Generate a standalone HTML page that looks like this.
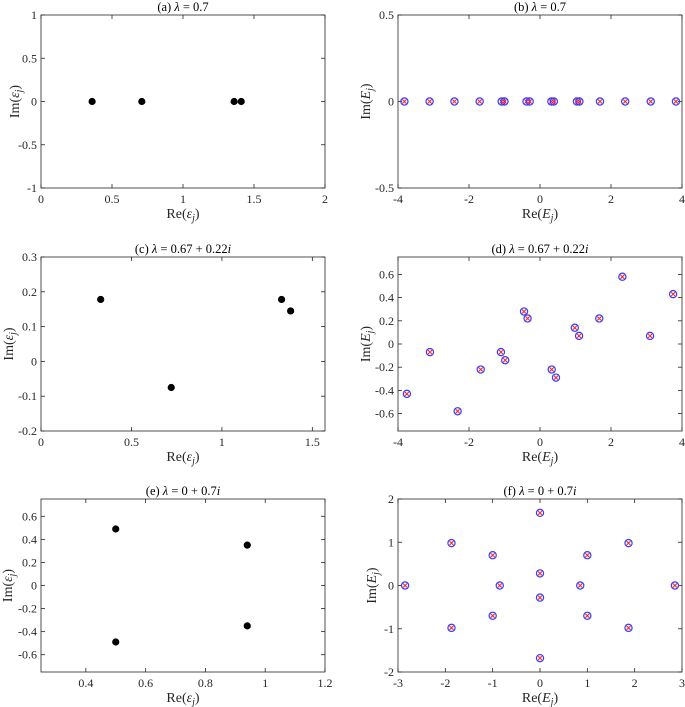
<!DOCTYPE html>
<html><head><meta charset="utf-8">
<style>
html,body{margin:0;padding:0;background:#fff;}
svg{display:block;font-family:"Liberation Serif",serif;}
</style></head>
<body>
<svg id="fig" width="685" height="707" viewBox="0 0 685 707" xmlns="http://www.w3.org/2000/svg"></svg>
<script>
// ---- data ----
const aRe=[0.36,0.71,1.36,1.41];
const aIm=[0,0,0,0];
const bRe=[-3.82,-3.11,-2.41,-1.70,-1.08,-1.00,-0.38,-0.29,0.32,0.39,1.04,1.11,1.69,2.40,3.12,3.83];
const bIm=[0,0,0,0,0,0,0,0,0,0,0,0,0,0,0,0];
const cRe=[0.33,0.72,1.33,1.38];
const cIm=[0.178,-0.075,0.178,0.145];
const dRe=[-3.75,-3.1,-2.32,-1.67,-1.1,-0.98,-0.45,-0.35,0.33,0.45,0.98,1.1,1.67,2.32,3.1,3.75];
const dIm=[-0.43,-0.07,-0.58,-0.22,-0.07,-0.14,0.28,0.22,-0.22,-0.29,0.14,0.07,0.22,0.58,0.07,0.43];
const eRe=[0.5,0.5,0.94,0.94];
const eIm=[0.49,-0.49,0.35,-0.35];
const fRe=[-2.85,-1.87,-1.87,-1,-1,-0.85,0,0,0,0,0.85,1,1,1.87,1.87,2.85];
const fIm=[0,0.98,-0.98,0.7,-0.7,0,1.68,0.28,-0.28,-1.68,0,0.7,-0.7,0.98,-0.98,0];
const aXt=[0,0.5,1,1.5,2], aYt=[-1,-0.5,0,0.5,1];
const bXt=[-4,-2,0,2,4], bYt=[-0.5,0,0.5];
const cXt=[0,0.5,1,1.5], cYt=[-0.2,-0.1,0,0.1,0.2,0.3];
const dXt=[-4,-2,0,2,4], dYt=[-0.6,-0.4,-0.2,0,0.2,0.4,0.6];
const eXt=[0.4,0.6,0.8,1,1.2], eYt=[-0.6,-0.4,-0.2,0,0.2,0.4,0.6];
const fXt=[-3,-2,-1,0,1,2,3], fYt=[-2,-1,0,1,2];

const NS="http://www.w3.org/2000/svg";
const svg=document.getElementById('fig');
function mk(tag,attrs,parent){const e=document.createElementNS(NS,tag);for(const k in attrs)e.setAttribute(k,attrs[k]);(parent||svg).appendChild(e);return e;}
function fmt(v){let s=String(Math.round(v*100)/100);return s;}

function panel(o){
  const g=mk('g',{});
  
  
  const X=v=>o.x0+(v-o.xlim[0])/(o.xlim[1]-o.xlim[0])*(o.x1-o.x0);
  const Y=v=>o.y1-(v-o.ylim[0])/(o.ylim[1]-o.ylim[0])*(o.y1-o.y0);
  const box=mk('rect',{x:o.x0,y:o.y0,width:o.x1-o.x0,height:o.y1-o.y0,fill:'#fff',stroke:'#262626','stroke-width':0.8},g);
  
  
  o.xt.forEach(v=>{const x=X(v);
    mk('line',{x1:x,x2:x,y1:o.y1,y2:o.y1-4,stroke:'#262626','stroke-width':0.8},g);
    mk('line',{x1:x,x2:x,y1:o.y0,y2:o.y0+4,stroke:'#262626','stroke-width':0.8},g);
    const t=mk('text',{x:x,y:o.y1+15,'font-size':12,'text-anchor':'middle',fill:'#262626'},g);
    
    
    t.textContent=fmt(v);});
  o.yt.forEach(v=>{const y=Y(v);
    mk('line',{x1:o.x0,x2:o.x0+4,y1:y,y2:y,stroke:'#262626','stroke-width':0.8},g);
    mk('line',{x1:o.x1,x2:o.x1-4,y1:y,y2:y,stroke:'#262626','stroke-width':0.8},g);
    const t=mk('text',{x:o.x0-4,y:y+4,'font-size':12,'text-anchor':'end',fill:'#262626'},g);
    
    
    t.textContent=fmt(v);});
  const ti=mk('text',{x:(o.x0+o.x1)/2,y:o.y0-4,'font-size':12.5,'text-anchor':'middle',fill:'#000'},g);
  
  
  ti.innerHTML=o.title;
  const xl=mk('text',{x:(o.x0+o.x1)/2,y:o.y1+30,'font-size':14,'text-anchor':'middle',fill:'#262626'},g);
  
  
  xl.innerHTML='Re('+o.v+'<tspan font-style="italic" font-size="10" dy="3">j</tspan><tspan dy="-3">)</tspan>';
  const cx=o.x0-o.ylab, cy=(o.y0+o.y1)/2;
  const yl=mk('text',{x:cx,y:cy,'font-size':14,'text-anchor':'middle',fill:'#262626',transform:'rotate(-90 '+cx+' '+cy+')'},g);
  
  
  yl.innerHTML='Im('+o.v+'<tspan font-style="italic" font-size="10" dy="3">j</tspan><tspan dy="-3">)</tspan>';
  for(let i=0;i<o.re.length;i++){
    const x=X(o.re[i]),y=Y(o.im[i]);
    if(o.dots){
      const c=mk('circle',{cx:x,cy:y,r:3.6,fill:'#000'},g);
      
      
    } else {
      const c=mk('circle',{cx:x,cy:y,r:3.6,fill:'none',stroke:'#3a3aff','stroke-width':1.2},g);
      
      
      const p=mk('path',{d:`M${x-2} ${y-2}L${x+2} ${y+2}M${x-2} ${y+2}L${x+2} ${y-2}`,stroke:'#ff2020','stroke-width':1},g);
      
      
    }
  }
}
const EPS='<tspan font-style="italic">ε</tspan>', E='<tspan font-style="italic">E</tspan>';
const L='<tspan font-style="italic">λ</tspan>';
const L1=41,R1=325,L2=398,R2=682;
panel({name:'panel-a',x0:L1,x1:R1,y0:15,y1:188,xlim:[0,2],ylim:[-1,1],xt:aXt,yt:aYt,re:aRe,im:aIm,dots:true,v:EPS,ylab:22,title:'(a) '+L+' = 0.7'});
panel({name:'panel-b',x0:L2,x1:R2,y0:15,y1:188,xlim:[-4,4],ylim:[-0.5,0.5],xt:bXt,yt:bYt,re:bRe,im:bIm,dots:false,v:E,ylab:28,title:'(b) '+L+' = 0.7'});
panel({name:'panel-c',x0:L1,x1:R1,y0:257,y1:431,xlim:[0,1.57],ylim:[-0.2,0.3],xt:cXt,yt:cYt,re:cRe,im:cIm,dots:true,v:EPS,ylab:28,title:'(c) '+L+' = 0.67 + 0.22<tspan font-style="italic">i</tspan>'});
panel({name:'panel-d',x0:L2,x1:R2,y0:257,y1:431,xlim:[-4,4],ylim:[-0.75,0.75],xt:dXt,yt:dYt,re:dRe,im:dIm,dots:false,v:E,ylab:28,title:'(d) '+L+' = 0.67 + 0.22<tspan font-style="italic">i</tspan>'});
panel({name:'panel-e',x0:L1,x1:R1,y0:499,y1:672,xlim:[0.25,1.2],ylim:[-0.75,0.75],xt:eXt,yt:eYt,re:eRe,im:eIm,dots:true,v:EPS,ylab:29,title:'(e) '+L+' = 0 + 0.7<tspan font-style="italic">i</tspan>'});
panel({name:'panel-f',x0:L2,x1:R2,y0:499,y1:672,xlim:[-3,3],ylim:[-2,2],xt:fXt,yt:fYt,re:fRe,im:fIm,dots:false,v:E,ylab:22,title:'(f) '+L+' = 0 + 0.7<tspan font-style="italic">i</tspan>'});
</script>
</body></html>
